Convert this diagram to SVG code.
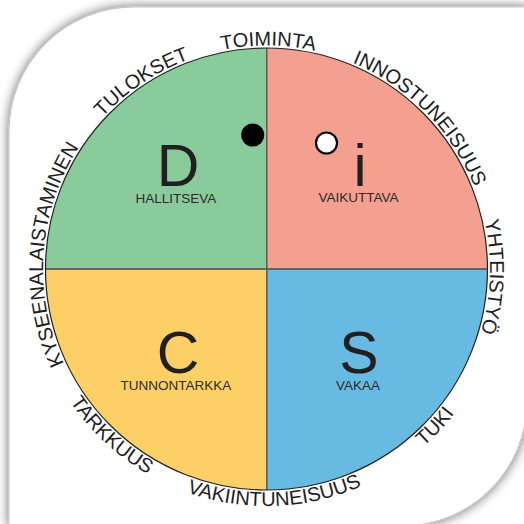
<svg xmlns="http://www.w3.org/2000/svg" xmlns:xlink="http://www.w3.org/1999/xlink" width="524" height="524" viewBox="0 0 524 524">
  <defs>
    <filter id="sh" x="-0.1" y="-0.1" width="1.2" height="1.2">
      <feGaussianBlur in="SourceAlpha" stdDeviation="6"/>
      <feComponentTransfer><feFuncA type="linear" slope="0.6"/></feComponentTransfer>
      <feMerge><feMergeNode/><feMergeNode in="SourceGraphic"/></feMerge>
    </filter>
    <!-- clockwise circle, midpoint at 0deg (right) -->
    <path id="cw" d="M 43,269 A 223.5,223.5 0 1 1 490,269 A 223.5,223.5 0 1 1 43,269"/>
    <!-- counter-clockwise circle, midpoint at 90deg (bottom) -->
    <path id="ccw" d="M 266.5,32 A 237,237 0 1 0 266.5,506 A 237,237 0 1 0 266.5,32"/>
  </defs>
  <style>
    .big { font-family: "Liberation Sans", Arial, sans-serif; font-size: 59px; fill: #231f20; text-anchor: middle; }
    .sub { font-family: "Liberation Sans", Arial, sans-serif; font-size: 13.5px; fill: #2b2b2b; text-anchor: middle; }
    .rim { font-family: "Liberation Sans", Arial, sans-serif; font-size: 20px; fill: #1e1e1e; text-anchor: middle; }
    .q { stroke: none; }
    .div { stroke: #4a4a4a; stroke-width: 1.3; fill: none; }
  </style>

  <rect x="0" y="0" width="524" height="524" fill="#ffffff"/>
  <path id="card" d="M 9,132 A 125,125 0 0 1 134,7 L 527,7 L 527,401 A 125,125 0 0 1 402,526 L 9,526 Z" fill="#ffffff" stroke="#c4c4c4" stroke-width="1" filter="url(#sh)"/>

  <g id="node-D">
    <path class="q" d="M 266.5,269 L 45.5,269 A 221,221 0 0 1 266.5,48 Z" fill="#8acb9b"/>
    <text class="big" x="178" y="186">D</text>
    <text class="sub" x="176" y="203">HALLITSEVA</text>
  </g>
  <g id="node-i">
    <path class="q" d="M 266.5,269 L 266.5,48 A 221,221 0 0 1 487.5,269 Z" fill="#f4a090"/>
    <text class="big" x="360" y="186">i</text>
    <text class="sub" x="358.5" y="202">VAIKUTTAVA</text>
  </g>
  <g id="node-C">
    <path class="q" d="M 266.5,269 L 266.5,490 A 221,221 0 0 1 45.5,269 Z" fill="#fdd067"/>
    <text class="big" x="178" y="372.5">C</text>
    <text class="sub" x="176" y="390">TUNNONTARKKA</text>
  </g>
  <g id="node-S">
    <path class="q" d="M 266.5,269 L 487.5,269 A 221,221 0 0 1 266.5,490 Z" fill="#67bbe3"/>
    <text class="big" x="359" y="372.5">S</text>
    <text class="sub" x="358" y="390">VAKAA</text>
  </g>

  <g id="dividers">
    <line class="div" x1="266.8" y1="48" x2="266.8" y2="490"/>
    <line class="div" x1="45.5" y1="269" x2="487.5" y2="269"/>
    <circle cx="266.5" cy="269" r="221" fill="none" stroke="#222" stroke-width="1.2"/>
  </g>

  <g id="markers">
    <circle cx="252.7" cy="135" r="11.5" fill="#000"/>
    <circle cx="326.5" cy="143" r="10.5" fill="#fff" stroke="#000" stroke-width="2.2"/>
  </g>

  <g id="rim-labels">
    <text class="rim" transform="rotate(-89.5 266.5 269)"><textPath xlink:href="#cw" href="#cw" startOffset="50%">TOIMINTA</textPath></text>
    <text class="rim" transform="rotate(-44.5 266.5 269)"><textPath xlink:href="#cw" href="#cw" startOffset="50%">INNOSTUNEISUUS</textPath></text>
    <text class="rim" transform="rotate(2 266.5 269)"><textPath xlink:href="#cw" href="#cw" startOffset="50%">YHTEISTYÖ</textPath></text>
    <text class="rim" transform="rotate(-123.7 266.5 269)"><textPath xlink:href="#cw" href="#cw" startOffset="50%">TULOKSET</textPath></text>
    <text class="rim" transform="rotate(184 266.5 269)"><textPath xlink:href="#cw" href="#cw" startOffset="50%">KYSEENALAISTAMINEN</textPath></text>
    <text class="rim" transform="rotate(-47 266.5 269)"><textPath xlink:href="#ccw" href="#ccw" startOffset="50%">TUKI</textPath></text>
    <text class="rim" transform="rotate(-2 266.5 269)"><textPath xlink:href="#ccw" href="#ccw" startOffset="50%">VAKIINTUNEISUUS</textPath></text>
    <text class="rim" transform="rotate(43 266.5 269)"><textPath xlink:href="#ccw" href="#ccw" startOffset="50%">TARKKUUS</textPath></text>
  </g>
</svg>
